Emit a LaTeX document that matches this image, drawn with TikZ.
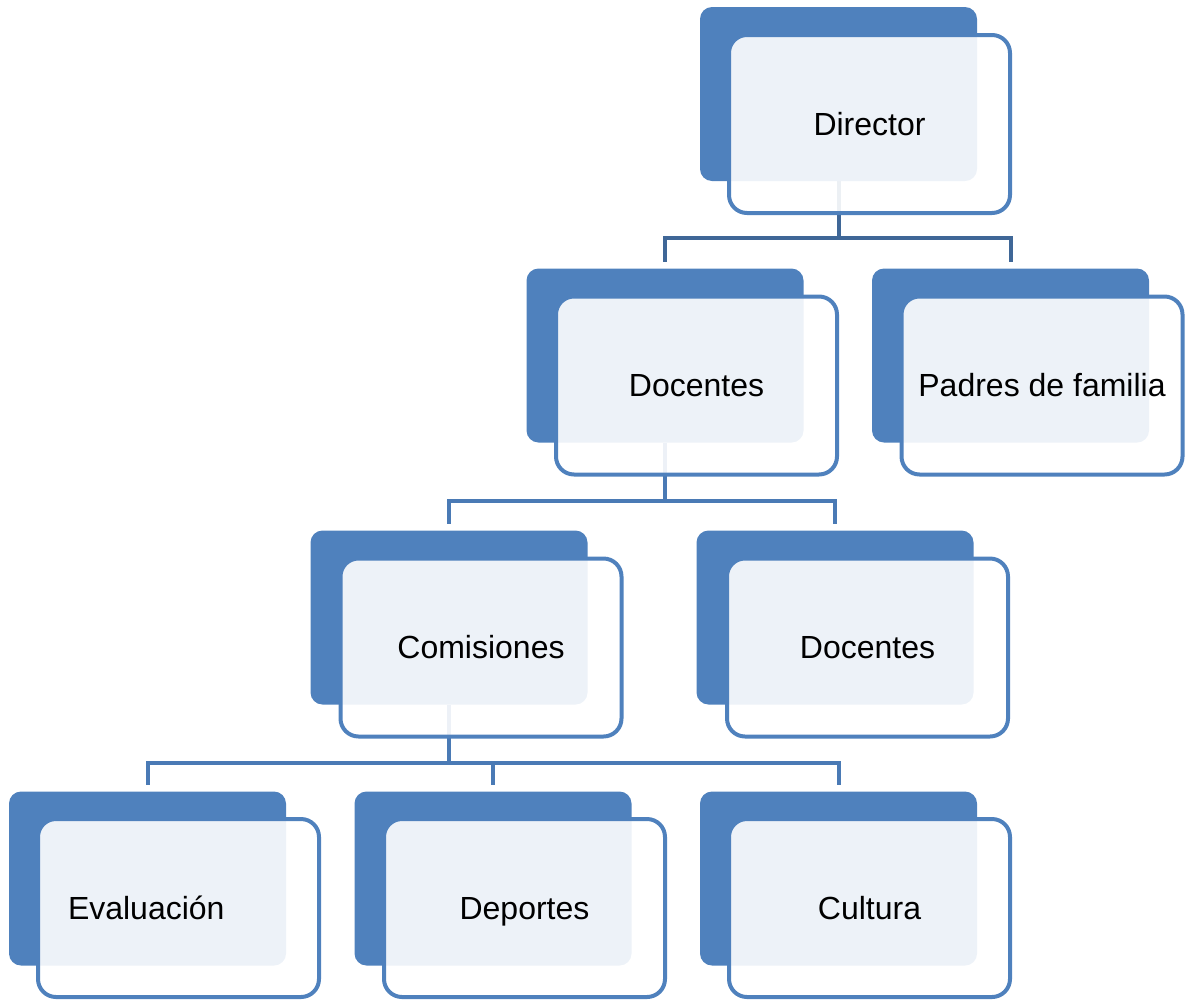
\documentclass[tikz,border=0pt]{standalone}
\usepackage{fontspec}
\setmainfont{Liberation Sans}
\usepackage{tikz}
\usepackage{xcolor}
\usetikzlibrary{backgrounds}
\definecolor{boxblue}{HTML}{4F81BD}
\definecolor{linktop}{HTML}{3F6797}
\definecolor{linkblue}{HTML}{4A7AB5}

\begin{document}
\begin{tikzpicture}[x=1pt,y=-1pt,
  backbox/.style={fill=boxblue,rounded corners=12pt,minimum width=277pt,minimum height=174pt,inner sep=0pt},
  frontbox/.style={draw=boxblue,line width=4pt,fill=white,fill opacity=0.9,text opacity=1,rounded corners=18pt,
    minimum width=281pt,minimum height=178pt,inner sep=0pt,text height=28pt,text depth=6pt,
    font=\fontsize{32}{38}\selectfont},
  link/.style={line width=4pt,shorten >=6pt}]
\useasboundingbox (0,0) rectangle (1188,999);
\node[backbox] (dirB) at (838.5,94) {};
\node[frontbox] (dir) at (869.5,124) {Director};
\node[backbox] (docB) at (665,355.5) {};
\node[frontbox] (doc) at (696.5,385.5) {Docentes};
\node[backbox] (padB) at (1010.5,355.5) {};
\node[frontbox] (pad) at (1042,385.5) {Padres de familia};
\node[backbox] (comB) at (449,617.5) {};
\node[frontbox] (com) at (481,647.5) {Comisiones};
\node[backbox] (docdB) at (835,617.5) {};
\node[frontbox] (docd) at (867.5,647.5) {Docentes};
\node[backbox] (evaB) at (147.5,878.5) {};
\node[frontbox,text width=221pt,inner xsep=30pt,align=left] (eva) at (178.5,908) {Evaluación};
\node[backbox] (depB) at (493,878.5) {};
\node[frontbox] (dep) at (524.5,908) {Deportes};
\node[backbox] (culB) at (838.5,878.5) {};
\node[frontbox] (cul) at (869.5,908) {Cultura};
\begin{scope}[on background layer]
\draw[link,linktop] (dirB.south) -- ++(0,57) -| (docB.north);
\draw[link,linktop] (dirB.south) -- ++(0,57) -| (padB.north);
\draw[link,linkblue] (docB.south) -- ++(0,58) -| (comB.north);
\draw[link,linkblue] (docB.south) -- ++(0,58) -| (docdB.north);
\draw[link,linkblue] (comB.south) -- ++(0,58) -| (evaB.north);
\draw[link,linkblue] (comB.south) -- ++(0,58) -| (depB.north);
\draw[link,linkblue] (comB.south) -- ++(0,58) -| (culB.north);
\end{scope}
\end{tikzpicture}
\end{document}
